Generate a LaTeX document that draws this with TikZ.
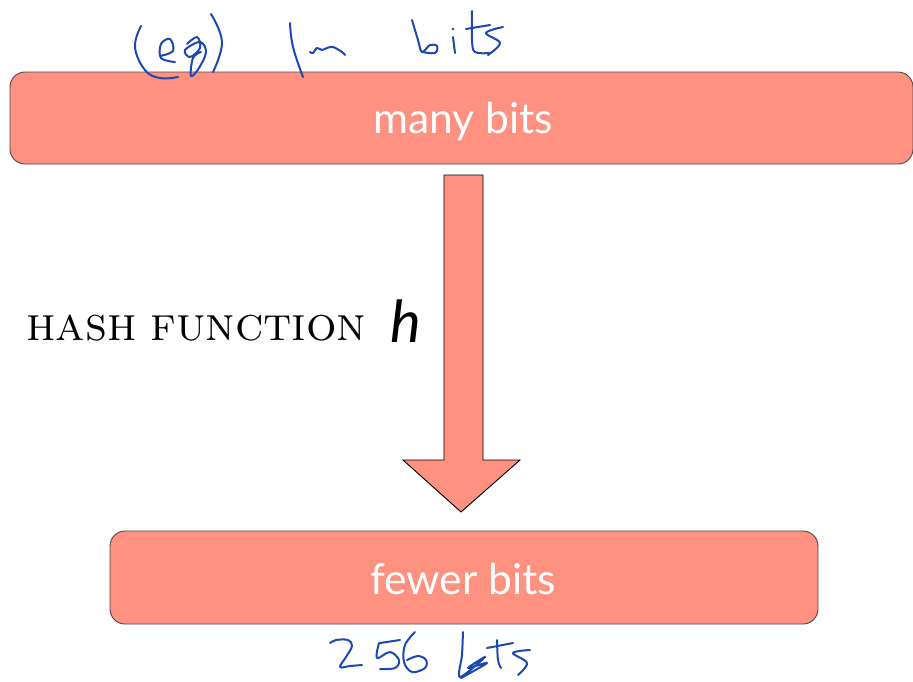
\documentclass[tikz,border=0pt]{standalone}
\usepackage{fontspec}
\setsansfont{Lato}
\definecolor{salmon}{RGB}{254,145,128}
\definecolor{rim}{RGB}{80,70,70}
\definecolor{ink}{RGB}{28,72,180}
\tikzset{
  bitbox/.style={draw=rim, line width=0.9pt, fill=salmon, rounded corners=15pt},
  boxtext/.style={text=white, font=\sffamily\fontsize{42.5}{48}\selectfont, inner sep=0pt},
  pen/.style={draw=ink, line width=2pt, line cap=round, line join=round},
}
\begin{document}
\begin{tikzpicture}[x=1pt, y=-1pt]
\useasboundingbox (0,0) rectangle (913,681);

% input and output blocks
\draw[bitbox] (10,72) rectangle (913,164);
\draw[bitbox] (110,531) rectangle (818,624);
\node[boxtext] (many) at (463,121) {many bits};
\node[boxtext] (fewer) at (463,579) {fewer bits};

% block arrow for the hash function
\coordinate (shaftTL) at (444,175);
\coordinate (shaftTR) at (483,175);
\coordinate (tip) at (461,512);
\draw[draw=black, line width=0.9pt, fill=salmon]
  (shaftTL) -- (shaftTR) -- (483,460) -- (520,460) -- (tip)
  -- (403,460) -- (444,460) -- cycle;

% label
\node[anchor=base west, inner sep=0pt] (lbl) at (26,340)
  {\fontsize{48}{52}\selectfont\textsc{hash\hspace{-4pt} function}};
\node[anchor=base west, inner sep=0pt] (hsym) at (390,342)
  {\fontsize{58}{64}\selectfont\sffamily\itshape h};

% handwritten note above: (eg) 1m bits
\draw[pen] plot[smooth, tension=0.7] coordinates {(141,26) (135,47) (145,70) (160,78) (178,77)};
\draw[pen] plot[smooth, tension=0.6] coordinates {(160,56) (173,51) (170,39) (161,44) (161,58) (175,62)};
\draw[pen] plot[smooth, tension=0.6] coordinates {(187,44) (197,37) (200,48) (190,57) (185,50) (200,42) (206,52) (199,68) (191,76) (193,58) (201,52)};
\draw[pen] plot[smooth, tension=0.7] coordinates {(211,14) (222,42) (213,72)};
\draw[pen] plot[smooth, tension=0.7] coordinates {(290,23) (293,47) (303,77)};
\draw[pen] plot[smooth, tension=0.6] coordinates {(310,52) (313,53) (317,48) (322,50) (327,48) (333,47) (342,52) (345,55)};
\draw[pen] plot[smooth, tension=0.6] coordinates {(412,20) (418,40) (422,52) (430,45) (437,46) (435,53) (422,52)};
\draw[pen] (453,37) -- (455,53);
\fill[ink] (453,29) circle (1.3);
\draw[pen] plot[smooth, tension=0.6] coordinates {(472,11) (472,40) (475,52) (489,53)};
\draw[pen] (466,29) -- (490,25);
\draw[pen] plot[smooth, tension=0.6] coordinates {(503,27) (486,33) (500,43) (488,55)};

% handwritten note below: 256 bits
\draw[pen] plot[smooth, tension=0.6] coordinates {(330,643) (336,640) (348,640) (352,646) (346,657) (340,667) (350,666) (362,665)};
\draw[pen] (380,643) -- (400,640);
\draw[pen] plot[smooth, tension=0.6] coordinates {(379,643) (377,658) (390,652) (399,660) (395,668) (380,669)};
\draw[pen] plot[smooth, tension=0.6] coordinates {(415,632) (405,645) (404,662) (412,672) (425,668) (426,660) (418,656) (407,660)};
\draw[pen] plot[smooth, tension=0.5] coordinates {(463,632) (462,655) (460,677) (485,657) (468,668) (487,663) (461,678)};
\draw[pen] plot[smooth, tension=0.6] coordinates {(497,640) (498,660) (501,668)};
\draw[pen] (487,648) -- (513,643);
\draw[pen] plot[smooth, tension=0.6] coordinates {(530,650) (513,653) (527,663) (518,675)};
\end{tikzpicture}
\end{document}
